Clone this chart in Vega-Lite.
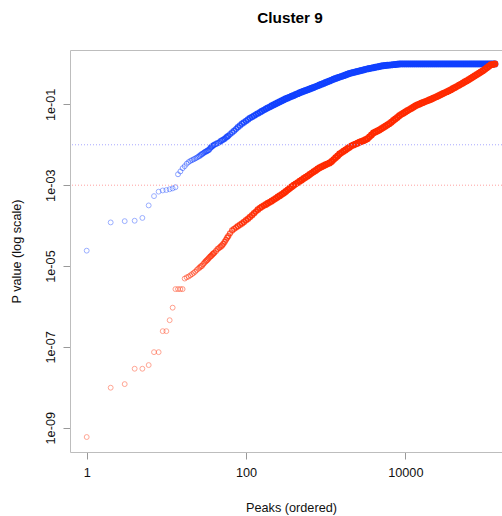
{
  "$schema": "https://vega.github.io/schema/vega-lite/v6.json",
  "width": 432,
  "height": 402,
  "autosize": "none",
  "padding": {"left": 70, "top": 50, "right": 0, "bottom": 64},
  "background": "white",
  "title": {"text": "Cluster 9", "fontSize": 15.3, "fontWeight": "bold", "font": "Liberation Sans", "color": "#000", "anchor": "middle", "dx": 4, "baseline": "alphabetic", "offset": 11.5},
  "config": {
    "font": "Liberation Sans",
    "view": {"stroke": null},
    "axis": {"grid": false, "domainColor": "#bdbdbd", "domainWidth": 1, "tickColor": "#999999", "tickSize": 7, "labelColor": "#111", "titleColor": "#111", "labelFontSize": 12.7, "titleFontSize": 12.7, "titleFontWeight": "normal", "labelFont": "Liberation Sans", "titleFont": "Liberation Sans"}
  },
  "datasets": {
    "blue": [
      {"x":1,"p":2.40e-5},{"x":2,"p":1.20e-4},{"x":3,"p":1.29e-4},{"x":4,"p":1.32e-4},{"x":5,"p":1.55e-4},{"x":6,"p":3.16e-4},{"x":7,"p":5.37e-4},{"x":8,"p":6.92e-4},{"x":9,"p":7.41e-4},{"x":10,"p":7.59e-4},
      {"x":11,"p":7.94e-4},{"x":12,"p":8.32e-4},{"x":13,"p":8.91e-4},{"x":14,"p":1.86e-3},{"x":15,"p":2.19e-3},{"x":16,"p":2.63e-3},{"x":17,"p":2.95e-3},{"x":18,"p":3.39e-3},{"x":19,"p":3.72e-3},{"x":20,"p":3.98e-3},
      {"x":21,"p":4.17e-3},{"x":22,"p":4.37e-3},{"x":23,"p":4.57e-3},{"x":24,"p":4.79e-3},{"x":25,"p":5.01e-3},{"x":26,"p":5.25e-3},{"x":27,"p":5.62e-3},{"x":28,"p":5.89e-3},{"x":29,"p":6.17e-3},{"x":30,"p":6.46e-3},
      {"x":31,"p":6.76e-3},{"x":32,"p":6.92e-3},{"x":33,"p":7.24e-3},{"x":34,"p":7.41e-3},{"x":35,"p":7.94e-3},{"x":36,"p":8.51e-3},{"x":37,"p":8.91e-3},{"x":38,"p":9.33e-3},{"x":39,"p":9.77e-3},{"x":40,"p":1.00e-2},
      {"x":42,"p":1.05e-2},{"x":44,"p":1.10e-2},{"x":46,"p":1.15e-2},{"x":48,"p":1.23e-2},{"x":50,"p":1.29e-2},{"x":52,"p":1.35e-2},{"x":54,"p":1.41e-2},{"x":56,"p":1.51e-2},{"x":58,"p":1.58e-2},{"x":60,"p":1.66e-2},
      {"x":63,"p":0.0182},{"x":67,"p":0.0201},{"x":71,"p":0.0222},{"x":75,"p":0.0246},{"x":79,"p":0.0272},{"x":84,"p":0.0300},{"x":89,"p":0.0330},{"x":94,"p":0.0358},{"x":100,"p":0.0389},{"x":106,"p":0.0423},
      {"x":112,"p":0.0458},{"x":119,"p":0.0489},{"x":126,"p":0.0522},{"x":133,"p":0.0557},{"x":141,"p":0.0594},{"x":150,"p":0.0635},{"x":158,"p":0.0678},{"x":168,"p":0.0724},{"x":178,"p":0.0774},{"x":188,"p":0.0822},
      {"x":200,"p":0.0871},{"x":211,"p":0.0923},{"x":224,"p":0.0977},{"x":237,"p":0.1035},{"x":251,"p":0.1096},{"x":266,"p":0.116},{"x":282,"p":0.123},{"x":299,"p":0.130},{"x":316,"p":0.137},{"x":335,"p":0.144},
      {"x":355,"p":0.151},{"x":376,"p":0.158},{"x":398,"p":0.166},{"x":422,"p":0.175},{"x":447,"p":0.184},{"x":473,"p":0.193},{"x":501,"p":0.202},{"x":531,"p":0.211},{"x":562,"p":0.220},{"x":596,"p":0.230},
      {"x":631,"p":0.240},{"x":668,"p":0.251},{"x":708,"p":0.262},{"x":750,"p":0.275},{"x":794,"p":0.287},{"x":841,"p":0.301},{"x":891,"p":0.316},{"x":944,"p":0.330},{"x":1000,"p":0.346},{"x":1059,"p":0.362},
      {"x":1122,"p":0.380},{"x":1189,"p":0.398},{"x":1259,"p":0.417},{"x":1334,"p":0.435},{"x":1413,"p":0.453},{"x":1496,"p":0.472},{"x":1585,"p":0.491},{"x":1679,"p":0.512},{"x":1778,"p":0.533},{"x":1884,"p":0.556},
      {"x":1995,"p":0.579},{"x":2113,"p":0.599},{"x":2239,"p":0.617},{"x":2371,"p":0.635},{"x":2512,"p":0.653},{"x":2661,"p":0.672},{"x":2818,"p":0.692},{"x":2985,"p":0.712},{"x":3162,"p":0.733},{"x":3350,"p":0.753},
      {"x":3548,"p":0.771},{"x":3758,"p":0.789},{"x":3981,"p":0.807},{"x":4217,"p":0.826},{"x":4467,"p":0.845},{"x":4732,"p":0.865},{"x":5012,"p":0.885},{"x":5309,"p":0.904},{"x":5623,"p":0.914},{"x":5957,"p":0.925},
      {"x":6310,"p":0.935},{"x":6683,"p":0.946},{"x":7079,"p":0.959},{"x":7499,"p":0.971},{"x":7943,"p":0.982},{"x":8414,"p":0.993},{"x":8913,"p":1},{"x":9441,"p":1},{"x":10000,"p":1},{"x":10593,"p":1},
      {"x":11220,"p":1},{"x":11885,"p":1},{"x":12589,"p":1},{"x":13335,"p":1},{"x":14125,"p":1},{"x":14962,"p":1},{"x":15849,"p":1},{"x":16788,"p":1},{"x":17783,"p":1},{"x":18836,"p":1},
      {"x":19953,"p":1},{"x":21135,"p":1},{"x":22387,"p":1},{"x":23714,"p":1},{"x":25119,"p":1},{"x":26607,"p":1},{"x":28184,"p":1},{"x":29854,"p":1},{"x":31623,"p":1},{"x":33497,"p":1},
      {"x":35481,"p":1},{"x":37584,"p":1},{"x":39811,"p":1},{"x":42170,"p":1},{"x":44668,"p":1},{"x":47315,"p":1},{"x":50119,"p":1},{"x":53088,"p":1},{"x":56234,"p":1},{"x":59566,"p":1},
      {"x":63096,"p":1},{"x":66834,"p":1},{"x":70795,"p":1},{"x":74989,"p":1},{"x":79433,"p":1},{"x":84140,"p":1},{"x":89125,"p":1},{"x":94406,"p":1},{"x":100000,"p":1},{"x":105925,"p":1},
      {"x":112202,"p":1},{"x":118850,"p":1},{"x":125893,"p":1},{"x":133352,"p":1}
    ],
    "red": [
      {"x":1,"p":5.89e-10},{"x":2,"p":9.77e-9},{"x":3,"p":1.20e-8},{"x":4,"p":2.88e-8},{"x":5,"p":2.88e-8},{"x":6,"p":3.55e-8},{"x":7,"p":7.41e-8},{"x":8,"p":7.41e-8},{"x":9,"p":2.45e-7},{"x":10,"p":2.45e-7},
      {"x":11,"p":4.57e-7},{"x":12,"p":9.33e-7},{"x":13,"p":2.69e-6},{"x":14,"p":2.69e-6},{"x":15,"p":2.69e-6},{"x":16,"p":2.69e-6},{"x":17,"p":4.90e-6},{"x":18,"p":5.25e-6},{"x":19,"p":5.50e-6},{"x":20,"p":5.89e-6},
      {"x":21,"p":6.31e-6},{"x":22,"p":6.76e-6},{"x":23,"p":7.24e-6},{"x":24,"p":7.94e-6},{"x":25,"p":8.51e-6},{"x":26,"p":9.12e-6},{"x":27,"p":9.77e-6},{"x":28,"p":1.02e-5},{"x":29,"p":1.12e-5},{"x":30,"p":1.20e-5},
      {"x":31,"p":1.29e-5},{"x":32,"p":1.38e-5},{"x":33,"p":1.45e-5},{"x":34,"p":1.55e-5},{"x":35,"p":1.66e-5},{"x":36,"p":1.74e-5},{"x":37,"p":1.82e-5},{"x":38,"p":1.95e-5},{"x":39,"p":2.04e-5},{"x":40,"p":2.14e-5},
      {"x":42,"p":2.34e-5},{"x":44,"p":2.63e-5},{"x":46,"p":2.82e-5},{"x":48,"p":3.02e-5},{"x":50,"p":3.24e-5},{"x":52,"p":3.55e-5},{"x":54,"p":3.98e-5},{"x":56,"p":4.47e-5},{"x":58,"p":5.01e-5},{"x":60,"p":5.50e-5},
      {"x":63,"p":6.46e-5},{"x":67,"p":7.59e-5},{"x":71,"p":8.32e-5},{"x":75,"p":9.02e-5},{"x":79,"p":9.66e-5},{"x":84,"p":1.05e-4},{"x":89,"p":1.135e-4},{"x":94,"p":1.23e-4},{"x":100,"p":1.35e-4},{"x":106,"p":1.47e-4},
      {"x":112,"p":1.63e-4},{"x":119,"p":1.81e-4},{"x":126,"p":2.01e-4},{"x":133,"p":2.23e-4},{"x":141,"p":2.48e-4},{"x":150,"p":2.73e-4},{"x":158,"p":2.92e-4},{"x":168,"p":3.13e-4},{"x":178,"p":3.34e-4},{"x":188,"p":3.58e-4},
      {"x":200,"p":3.83e-4},{"x":211,"p":4.09e-4},{"x":224,"p":4.40e-4},{"x":237,"p":4.74e-4},{"x":251,"p":5.11e-4},{"x":266,"p":5.51e-4},{"x":282,"p":5.94e-4},{"x":299,"p":6.43e-4},{"x":316,"p":7.02e-4},{"x":335,"p":7.67e-4},
      {"x":355,"p":8.38e-4},{"x":376,"p":9.16e-4},{"x":398,"p":1.00e-3},{"x":422,"p":1.08e-3},{"x":447,"p":1.16e-3},{"x":473,"p":1.25e-3},{"x":501,"p":1.35e-3},{"x":531,"p":1.46e-3},{"x":562,"p":1.57e-3},{"x":596,"p":1.70e-3},
      {"x":631,"p":1.84e-3},{"x":668,"p":1.99e-3},{"x":708,"p":2.15e-3},{"x":750,"p":2.32e-3},{"x":794,"p":2.51e-3},{"x":841,"p":2.71e-3},{"x":891,"p":2.87e-3},{"x":944,"p":3.03e-3},{"x":1000,"p":3.20e-3},{"x":1059,"p":3.37e-3},
      {"x":1122,"p":3.56e-3},{"x":1189,"p":3.86e-3},{"x":1259,"p":4.30e-3},{"x":1334,"p":4.78e-3},{"x":1413,"p":5.31e-3},{"x":1496,"p":5.90e-3},{"x":1585,"p":6.41e-3},{"x":1679,"p":6.92e-3},{"x":1778,"p":7.46e-3},{"x":1884,"p":8.07e-3},
      {"x":1995,"p":8.71e-3},{"x":2113,"p":9.40e-3},{"x":2239,"p":9.93e-3},{"x":2371,"p":1.04e-2},{"x":2512,"p":1.09e-2},{"x":2661,"p":1.15e-2},{"x":2818,"p":1.21e-2},{"x":2985,"p":1.26e-2},{"x":3162,"p":1.33e-2},{"x":3350,"p":1.41e-2},
      {"x":3548,"p":1.57e-2},{"x":3758,"p":1.75e-2},{"x":3981,"p":1.95e-2},{"x":4217,"p":2.08e-2},{"x":4467,"p":2.20e-2},{"x":4732,"p":2.32e-2},{"x":5012,"p":2.48e-2},{"x":5309,"p":2.67e-2},{"x":5623,"p":2.88e-2},{"x":5957,"p":3.10e-2},
      {"x":6310,"p":3.33e-2},{"x":6683,"p":3.63e-2},{"x":7079,"p":3.97e-2},{"x":7499,"p":4.35e-2},{"x":7943,"p":4.75e-2},{"x":8414,"p":5.21e-2},{"x":8913,"p":5.65e-2},{"x":9441,"p":6.04e-2},{"x":10000,"p":6.47e-2},{"x":10593,"p":6.92e-2},
      {"x":11220,"p":7.41e-2},{"x":11885,"p":7.94e-2},{"x":12589,"p":8.49e-2},{"x":13335,"p":9.10e-2},{"x":14125,"p":9.68e-2},{"x":14962,"p":0.101},{"x":15849,"p":0.106},{"x":16788,"p":0.111},{"x":17783,"p":0.117},{"x":18836,"p":0.122},
      {"x":19953,"p":0.128},{"x":21135,"p":0.134},{"x":22387,"p":0.141},{"x":23714,"p":0.149},{"x":25119,"p":0.157},{"x":26607,"p":0.166},{"x":28184,"p":0.175},{"x":29854,"p":0.185},{"x":31623,"p":0.195},{"x":33497,"p":0.206},
      {"x":35481,"p":0.218},{"x":37584,"p":0.231},{"x":39811,"p":0.246},{"x":42170,"p":0.262},{"x":44668,"p":0.279},{"x":47315,"p":0.298},{"x":50119,"p":0.317},{"x":53088,"p":0.338},{"x":56234,"p":0.361},{"x":59566,"p":0.385},
      {"x":63096,"p":0.413},{"x":66834,"p":0.444},{"x":70795,"p":0.475},{"x":74989,"p":0.511},{"x":79433,"p":0.548},{"x":84140,"p":0.589},{"x":89125,"p":0.632},{"x":94406,"p":0.678},{"x":100000,"p":0.738},{"x":105925,"p":0.805},
      {"x":112202,"p":0.879},{"x":118850,"p":0.953},{"x":125893,"p":0.971},{"x":133352,"p":1}
    ],
    "refs": [{"p":0.01,"line":"blue"},{"p":0.001,"line":"red"}]
  },
  "encoding": {
    "y": {
      "field": "p", "type": "quantitative",
      "scale": {"type": "log", "domain": [2.51e-10, 2.21], "nice": false},
      "axis": {"values": [1e-9, 1e-7, 1e-5, 1e-3, 0.1], "labelExpr": "'1e-0' + round(-log(datum.value)/LN10)", "labelAngle": 270, "labelAlign": "center", "labelBaseline": "alphabetic", "labelPadding": 9, "titleX": -49.4, "titleY": 201, "titleAngle": 270, "titleAlign": "center", "titleBaseline": "alphabetic", "labelOverlap": false},
      "title": "P value (log scale)"
    }
  },
  "layer": [
    {
      "data": {"name": "blue"},
      "mark": {"type": "point", "shape": "circle", "filled": false, "color": "#1040ff", "size": 24},
      "encoding": {
        "x": {"field": "x", "type": "quantitative", "scale": {"type": "log", "domain": [0.617, 163700], "nice": false},
              "axis": {"orient": "bottom", "values": [1, 100, 10000], "format": "d", "labelBaseline": "alphabetic", "labelPadding": 17, "labelFlush": false, "labelOverlap": false, "titleX": 221, "titleY": 59.7, "titleBaseline": "alphabetic"},
              "title": "Peaks (ordered)"},
        "opacity": {"field": "x", "type": "quantitative", "scale": {"type": "log", "domain": [10, 300], "range": [0.42, 1], "clamp": true}, "legend": null},
        "strokeWidth": {"field": "x", "type": "quantitative", "scale": {"type": "log", "domain": [25, 300], "range": [1, 2], "clamp": true}, "legend": null}
      }
    },
    {
      "data": {"name": "red"},
      "mark": {"type": "point", "shape": "circle", "filled": false, "color": "#ff2a00", "size": 24},
      "encoding": {
        "x": {"field": "x", "type": "quantitative", "scale": {"type": "log", "domain": [0.617, 163700], "nice": false},
              "axis": {"orient": "top", "labels": false, "ticks": false, "domain": true, "title": null}},
        "opacity": {"field": "x", "type": "quantitative", "scale": {"type": "log", "domain": [10, 300], "range": [0.42, 1], "clamp": true}, "legend": null},
        "strokeWidth": {"field": "x", "type": "quantitative", "scale": {"type": "log", "domain": [25, 300], "range": [1, 2], "clamp": true}, "legend": null}
      }
    },
    {
      "data": {"name": "refs"},
      "transform": [{"filter": "datum.line === 'blue'"}],
      "mark": {"type": "rule", "strokeDash": [1, 2], "strokeWidth": 1, "color": "#a8a8ff"},
      "encoding": {}
    },
    {
      "data": {"name": "refs"},
      "transform": [{"filter": "datum.line === 'red'"}],
      "mark": {"type": "rule", "strokeDash": [1, 2], "strokeWidth": 1, "color": "#ffa0a0"},
      "encoding": {}
    }
  ],
  "resolve": {"axis": {"x": "independent"}}
}
